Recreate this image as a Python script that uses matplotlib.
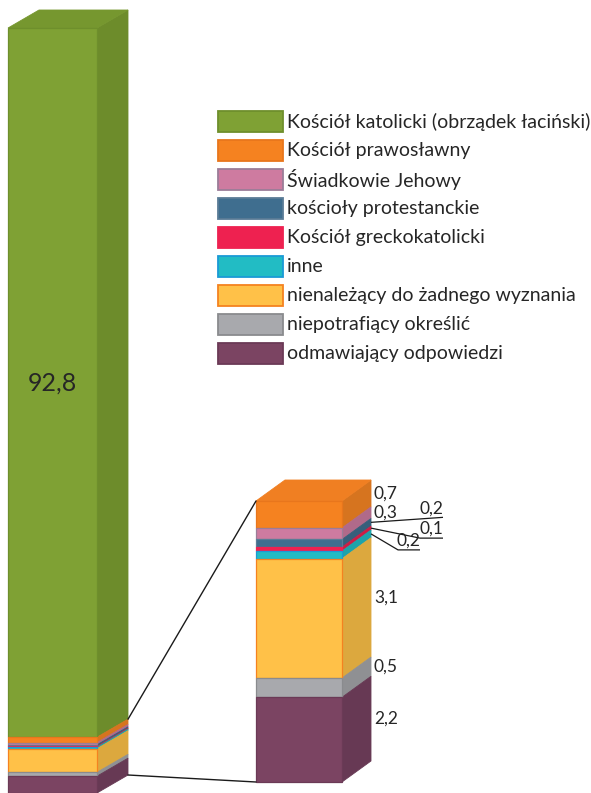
import matplotlib
matplotlib.use("Agg")
import matplotlib.pyplot as plt
from matplotlib.patches import Polygon, Rectangle, ConnectionPatch

categories = [
    "Kościół katolicki (obrządek łaciński)",
    "Kościół prawosławny",
    "Świadkowie Jehowy",
    "kościoły protestanckie",
    "Kościół greckokatolicki",
    "inne",
    "nienależący do żadnego wyznania",
    "niepotrafiący określić",
    "odmawiający odpowiedzi",
]
values = [92.8, 0.7, 0.3, 0.2, 0.1, 0.2, 3.1, 0.5, 2.2]
value_labels = ["92,8", "0,7", "0,3", "0,2", "0,1", "0,2", "3,1", "0,5", "2,2"]

front_colors = ["#7FA134", "#F58220", "#CE7BA0", "#3F6E8F", "#EE2150",
                "#22BCC4", "#FFC148", "#A8A9AD", "#7B4462"]
side_colors = ["#6D8C2B", "#D6741F", "#B06A8A", "#365F7B", "#CC1D45",
               "#1DA3AA", "#DCA83E", "#8F9093", "#673954"]
top_colors = ["#76972F", "#F07F22", "#C87598", "#3A6786", "#E21E4A",
              "#20B2BA", "#F2B843", "#9C9DA0", "#70405B"]
edge_colors = ["#6E8F2C", "#E8761C", "#9B7D98", "#5A7C96", "#EE2150",
               "#1A9AD6", "#F58220", "#8A8B8E", "#6B3A56"]

W, H, DPI = 591, 793, 100
plt.rcParams["font.family"] = ["Lato", "DejaVu Sans"]
TEXT = "#262626"

fig = plt.figure(figsize=(W / DPI, H / DPI), dpi=DPI)

n = len(values)
total = sum(values)
bottoms = [sum(values[i + 1:]) for i in range(n)]
sub_total = sum(values[1:])


def bar3d(ax, idx, x0, width, dx, dy):
    x1 = x0 + width
    for i in idx:
        b, h = bottoms[i], values[i]
        ax.bar(x0 + width / 2, h, width, bottom=b, color=front_colors[i],
               edgecolor=edge_colors[i], linewidth=0.9, zorder=3)
        ax.add_patch(Polygon([(x1, b), (x1 + dx, b + dy), (x1 + dx, b + h + dy), (x1, b + h)],
                             closed=True, facecolor=side_colors[i],
                             edgecolor=side_colors[i], linewidth=0.6, zorder=2))
    t = idx[0]
    top = bottoms[t] + values[t]
    ax.add_patch(Polygon([(x0, top), (x0 + dx, top + dy), (x1 + dx, top + dy), (x1, top)],
                         closed=True, facecolor=top_colors[t],
                         edgecolor=top_colors[t], linewidth=0.6, zorder=2))


# ---- legend (drawn in a pixel-coordinate overlay) ----
axl = fig.add_axes([0, 0, 1, 1])
axl.set_xlim(0, W)
axl.set_ylim(H, 0)
axl.axis("off")
LEG_X, LEG_Y, LEG_W, LEG_H, LEG_STEP = 218, 111, 65, 21, 29
for i, cat in enumerate(categories):
    y = LEG_Y + i * LEG_STEP
    axl.add_patch(Rectangle((LEG_X, y), LEG_W, LEG_H, facecolor=front_colors[i],
                            edgecolor=edge_colors[i], linewidth=1.3))
    axl.text(LEG_X + LEG_W + 4, y + LEG_H / 2, cat, ha="left", va="center",
             fontsize=14, color=TEXT)

# ---- left (full) bar ----
ax1 = fig.add_axes([0, 0, 140 / W, 1])
s1 = (H - 28) / total
ax1.set_xlim(0, 140)
ax1.set_ylim(0, H / s1)
ax1.axis("off")
L_X0, L_W, L_DX, L_DY = 8, 89, 31, 18 / s1
bar3d(ax1, list(range(n)), L_X0, L_W, L_DX, L_DY)
ax1.text(L_X0 + L_W / 2, bottoms[0] + values[0] / 2, value_labels[0],
         ha="center", va="center", fontsize=18, color=TEXT, zorder=5)

# ---- right (zoomed) bar ----
ax2 = fig.add_axes([240 / W, 0, (W - 240) / W, 1])
s2 = (782 - 501) / sub_total
ax2.set_xlim(240, W)
ax2.set_ylim(-(H - 782) / s2, sub_total + 501 / s2)
ax2.axis("off")
R_X0, R_W, R_DX, R_DY = 256, 86, 29, 21 / s2
bar3d(ax2, list(range(1, n)), R_X0, R_W, R_DX, R_DY)

LBL_FS = 12.5
lab_x = R_X0 + R_W + R_DX + 3
for i in [1, 2, 6, 7, 8]:
    ax2.text(lab_x, bottoms[i] + values[i] / 2 + R_DY, value_labels[i],
             ha="left", va="center", fontsize=LBL_FS, color=TEXT)

# leader lines for thin segments (offsets in pixels)
leaders = {3: [(72, 5)], 4: [(49, -10), (72, -10)], 5: [(27, -16), (49, -16)]}
sx = R_X0 + R_W + R_DX
for i, pts in leaders.items():
    sy = bottoms[i] + values[i] / 2 + R_DY
    xs = [sx] + [sx + p[0] for p in pts]
    ys = [sy] + [sy + p[1] / s2 for p in pts]
    ax2.plot(xs, ys, color="#1a1a1a", lw=0.9, solid_capstyle="butt")
    ax2.text(xs[-1], ys[-1] + 1 / s2, value_labels[i], ha="right", va="bottom",
             fontsize=LBL_FS, color=TEXT)

# connector lines between bars
for ya, yb in [(bottoms[0] + L_DY, sub_total), (L_DY, 0)]:
    con = ConnectionPatch(xyA=(L_X0 + L_W + L_DX, ya), coordsA=ax1.transData,
                          xyB=(R_X0, yb), coordsB=ax2.transData,
                          color="#1a1a1a", lw=1.0)
    fig.add_artist(con)

fig.savefig("out.png", dpi=DPI)
